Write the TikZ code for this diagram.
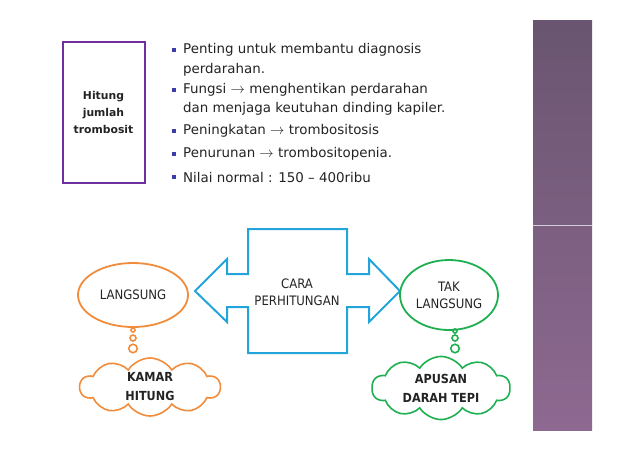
\documentclass[tikz,border=0pt]{standalone}
\usepackage{fontspec}
\setmainfont{DejaVu Sans}
\newfontfamily\condfont{DejaVu Sans Condensed}
\usetikzlibrary{shapes.geometric,shapes.symbols}
\definecolor{boxpurple}{RGB}{112,48,160}
\definecolor{arrowblue}{RGB}{35,165,220}
\definecolor{orng}{RGB}{240,140,60}
\definecolor{grn}{RGB}{30,175,80}
\definecolor{txt}{RGB}{35,35,35}
\definecolor{bulletblue}{RGB}{60,60,170}
\definecolor{stripTop}{RGB}{105,85,112}
\definecolor{stripBot}{RGB}{142,105,145}
\tikzset{
  bul/.style={anchor=west, text=txt, font=\fontsize{13.4}{15}\selectfont, inner sep=0pt},
  bsq/.style={fill=bulletblue, minimum size=4pt, inner sep=0pt},
  difftext/.style={text=txt, font=\condfont\fontsize{13}{17}\selectfont, align=center},
  bubble/.style={circle, draw, line width=1.6pt, inner sep=0pt},
  cloudnode/.style={cloud, cloud puffs=10, cloud puff arc=115, aspect=2.3, draw, line width=1.6pt, inner sep=0pt, text=txt, font=\condfont\bfseries\fontsize{12.5}{19}\selectfont, align=center}
}
\begin{document}
\begin{tikzpicture}[x=1pt,y=-1pt]
\useasboundingbox (0,0) rectangle (638,451);
% purple strip
\shade[top color=stripTop, bottom color=stripBot] (533,20) rectangle (592,430);
\draw[white!70!stripTop, line width=0.6pt] (533,225) -- (592,225);
% box
\node[draw=boxpurple, line width=2pt, minimum width=82pt, minimum height=141pt, inner sep=0pt,
      text=txt, font=\bfseries\fontsize{10.8}{17}\selectfont, align=center] (box) at (103.5,112.5) {Hitung\\jumlah\\trombosit};
% bullets
\node[bsq] (b1) at (174,50) {};
\node[bul] (t1) at (183,50) {Penting untuk membantu diagnosis};
\node[bul] (t1b) at (183,70) {perdarahan.};
\node[bsq] (b2) at (174,90) {};
\node[bul] (t2) at (183,90) {Fungsi $\rightarrow$ menghentikan perdarahan};
\node[bul] (t2b) at (183,109) {dan menjaga keutuhan dinding kapiler.};
\node[bsq] (b3) at (174,131) {};
\node[bul] (t3) at (183,131) {Peningkatan $\rightarrow$ trombositosis};
\node[bsq] (b4) at (174,154) {};
\node[bul] (t4) at (183,154) {Penurunan $\rightarrow$ trombositopenia.};
\node[bsq] (b5) at (174,177) {};
\node[bul] (t5) at (183,177) {Nilai normal : 150 -- 400ribu};
% double block arrow
\draw[arrowblue, line width=2pt, line join=miter]
  (248,229) -- (347,229) -- (347,274) -- (369,274) -- (369,259) -- (400,291)
  -- (369,322) -- (369,307) -- (347,307) -- (347,353) -- (248,353) -- (248,307)
  -- (227,307) -- (227,322) -- (195,291) -- (227,259) -- (227,274) -- (248,274) -- cycle;
\node[difftext] (cara) at (297,292) {CARA\\PERHITUNGAN};
% left side
\node[ellipse, draw=orng, line width=1.8pt, minimum width=110pt, minimum height=64pt, inner sep=0pt, difftext] (lang) at (133,295) {LANGSUNG};
\node[bubble, draw=orng, minimum size=4pt] (lb1) at (133,330) {};
\node[bubble, draw=orng, minimum size=6pt] (lb2) at (133,338) {};
\node[bubble, draw=orng, minimum size=8.5pt] (lb3) at (133,348.5) {};
\node[cloudnode, draw=orng, minimum width=140pt, minimum height=58pt] (kamar) at (150,387) {KAMAR\\HITUNG};
% right side
\node[ellipse, draw=grn, line width=1.8pt, minimum width=98pt, minimum height=70pt, inner sep=0pt, difftext] (tak) at (449,295) {TAK\\LANGSUNG};
\node[bubble, draw=grn, minimum size=4pt] (rb1) at (455,331) {};
\node[bubble, draw=grn, minimum size=6pt] (rb2) at (455,338) {};
\node[bubble, draw=grn, minimum size=8.5pt] (rb3) at (455,348.5) {};
\node[cloudnode, draw=grn, minimum width=138pt, minimum height=58pt] (apusan) at (441,388) {APUSAN\\DARAH TEPI};
\end{tikzpicture}
\end{document}
